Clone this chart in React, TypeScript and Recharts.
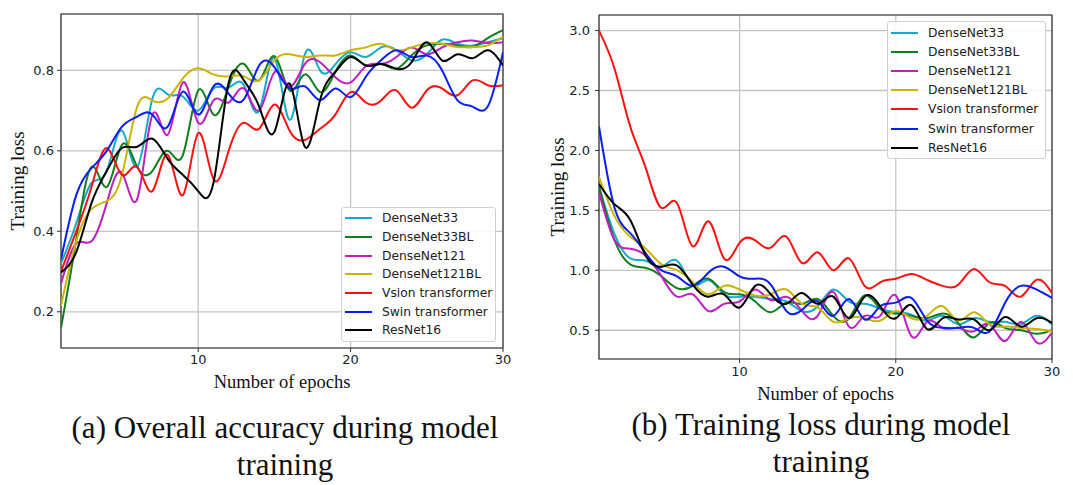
import { LineChart, Line, XAxis, YAxis, CartesianGrid, Legend, ReferenceArea } from 'recharts'

const epochs = [1, 2, 3, 4, 5, 6, 7, 8, 9, 10, 11, 12, 13, 14, 15, 16, 17, 18, 19, 20, 21, 22, 23, 24, 25, 26, 27, 28, 29, 30]

const seriesNames = ['DenseNet33', 'DenseNet33BL', 'DenseNet121', 'DenseNet121BL', 'Vsion transformer', 'Swin transformer', 'ResNet16']
const seriesColors = ['#17a9cb', '#127d1c', '#c01fc0', '#c9b400', '#ff1010', '#0a1ef0', '#000000']

// (a) overall accuracy
const accDenseNet33 = [0.32, 0.42, 0.52, 0.55, 0.65, 0.56, 0.73, 0.74, 0.735, 0.70, 0.755, 0.757, 0.763, 0.70, 0.83, 0.677, 0.84, 0.80, 0.815, 0.845, 0.833, 0.857, 0.85, 0.825, 0.84, 0.876, 0.866, 0.862, 0.87, 0.88]
const accDenseNet33BL = [0.16, 0.38, 0.56, 0.51, 0.615, 0.56, 0.55, 0.60, 0.59, 0.75, 0.69, 0.76, 0.816, 0.775, 0.835, 0.75, 0.79, 0.746, 0.796, 0.837, 0.812, 0.816, 0.804, 0.837, 0.862, 0.866, 0.862, 0.858, 0.88, 0.90]
const accDenseNet121 = [0.27, 0.37, 0.375, 0.47, 0.545, 0.48, 0.69, 0.64, 0.77, 0.67, 0.725, 0.72, 0.755, 0.70, 0.795, 0.76, 0.816, 0.82, 0.783, 0.77, 0.81, 0.816, 0.833, 0.857, 0.84, 0.857, 0.87, 0.874, 0.868, 0.87]
const accDenseNet121BL = [0.215, 0.375, 0.455, 0.475, 0.54, 0.71, 0.725, 0.73, 0.78, 0.805, 0.79, 0.785, 0.785, 0.775, 0.825, 0.84, 0.833, 0.837, 0.837, 0.85, 0.857, 0.866, 0.85, 0.857, 0.867, 0.866, 0.858, 0.858, 0.862, 0.884]
const accVit = [0.30, 0.40, 0.51, 0.607, 0.54, 0.56, 0.50, 0.59, 0.49, 0.644, 0.53, 0.60, 0.67, 0.655, 0.715, 0.65, 0.627, 0.655, 0.69, 0.746, 0.72, 0.725, 0.75, 0.707, 0.75, 0.755, 0.738, 0.775, 0.763, 0.763]
const accSwin = [0.33, 0.49, 0.557, 0.60, 0.66, 0.685, 0.69, 0.66, 0.747, 0.69, 0.76, 0.742, 0.728, 0.812, 0.808, 0.755, 0.76, 0.726, 0.755, 0.733, 0.784, 0.825, 0.85, 0.833, 0.837, 0.80, 0.726, 0.71, 0.71, 0.845]
const accResNet16 = [0.298, 0.348, 0.47, 0.55, 0.607, 0.61, 0.63, 0.58, 0.54, 0.50, 0.52, 0.77, 0.775, 0.71, 0.647, 0.767, 0.61, 0.726, 0.796, 0.833, 0.812, 0.816, 0.804, 0.82, 0.87, 0.825, 0.84, 0.83, 0.85, 0.812]

// (b) training loss
const lossDenseNet33 = [1.70, 1.30, 1.10, 1.08, 1.03, 1.08, 0.88, 0.92, 0.80, 0.78, 0.78, 0.76, 0.74, 0.66, 0.70, 0.84, 0.74, 0.72, 0.68, 0.65, 0.63, 0.58, 0.62, 0.55, 0.60, 0.57, 0.57, 0.55, 0.62, 0.55]
const lossDenseNet33BL = [1.70, 1.25, 1.05, 1.02, 0.95, 0.85, 0.87, 0.93, 0.82, 0.80, 0.74, 0.65, 0.73, 0.72, 0.76, 0.62, 0.60, 0.79, 0.68, 0.64, 0.62, 0.60, 0.64, 0.56, 0.44, 0.56, 0.52, 0.50, 0.47, 0.50]
const lossDenseNet121 = [1.65, 1.25, 1.18, 1.12, 0.95, 0.78, 0.80, 0.66, 0.72, 0.74, 0.84, 0.75, 0.78, 0.66, 0.62, 0.82, 0.53, 0.62, 0.62, 0.79, 0.45, 0.57, 0.52, 0.52, 0.49, 0.55, 0.41, 0.57, 0.40, 0.48]
const lossDenseNet121BL = [1.78, 1.45, 1.28, 1.18, 1.05, 1.00, 0.90, 0.80, 0.87, 0.84, 0.79, 0.80, 0.84, 0.72, 0.69, 0.57, 0.60, 0.60, 0.58, 0.66, 0.60, 0.62, 0.70, 0.58, 0.65, 0.55, 0.53, 0.52, 0.51, 0.49]
const lossVit = [3.00, 2.68, 2.20, 1.85, 1.52, 1.56, 1.20, 1.41, 1.10, 1.23, 1.25, 1.19, 1.28, 1.06, 1.15, 1.00, 1.10, 0.87, 0.90, 0.93, 0.97, 0.92, 0.87, 0.88, 1.01, 0.90, 0.87, 0.78, 0.92, 0.81]
const lossSwin = [2.20, 1.52, 1.31, 1.14, 1.00, 0.95, 0.87, 0.98, 1.03, 0.95, 0.93, 0.88, 0.66, 0.67, 0.74, 0.62, 0.76, 0.59, 0.70, 0.73, 0.77, 0.58, 0.52, 0.52, 0.52, 0.49, 0.73, 0.87, 0.84, 0.77]
const lossResNet16 = [1.72, 1.55, 1.42, 1.12, 1.03, 1.04, 0.88, 0.78, 0.80, 0.69, 0.87, 0.80, 0.72, 0.81, 0.72, 0.78, 0.60, 0.78, 0.70, 0.60, 0.71, 0.51, 0.60, 0.59, 0.59, 0.50, 0.61, 0.53, 0.60, 0.56]

const epochTicks = [10, 20, 30]
const accTicks = [0.2, 0.4, 0.6, 0.8]
const lossTicks = [0.5, 1.0, 1.5, 2.0, 2.5, 3.0]

const accSeries = [accDenseNet33, accDenseNet33BL, accDenseNet121, accDenseNet121BL, accVit, accSwin, accResNet16]
const lossSeries = [lossDenseNet33, lossDenseNet33BL, lossDenseNet121, lossDenseNet121BL, lossVit, lossSwin, lossResNet16]

const buildRows = (series: number[][]) =>
    epochs.map((epoch, i) => {
        const row: Record<string, number> = { epoch }
        seriesNames.forEach((name, s) => { row[name] = series[s][i] })
        return row
    })

const tickStyle = { fontFamily: 'DejaVu Sans', fontSize: 13, fill: '#222' }
const serif = "'Liberation Serif', 'Times New Roman', serif"

function LegendBox({ width, height, rowHeight }: { width: number; height: number; rowHeight: number }) {
    return (
        <div style={{
            width, height, boxSizing: 'border-box', border: '1px solid #d0d0d0', borderRadius: 3,
            background: 'rgba(255,255,255,0.85)', paddingTop: 1,
        }}>
            {seriesNames.map((name, i) => (
                <div key={name} style={{ height: rowHeight, display: 'flex', alignItems: 'center' }}>
                    <div style={{ width: 27, height: 2, background: seriesColors[i], marginLeft: 3, marginRight: 10 }} />
                    <span style={{ fontFamily: 'DejaVu Sans', fontSize: 12.3, color: '#222', whiteSpace: 'nowrap' }}>{name}</span>
                </div>
            ))}
        </div>
    )
}

interface ChartProps {
    series: number[][]
    domain: [number, number]
    ticks: number[]
    width: number
    height: number
    margin: { top: number; right: number; left: number; bottom: number }
    yAxisWidth: number
    xAxisHeight: number
    xLabelOffset: number
    yTickMargin: number
    xTickMargin: number
    legendPos: { left: number; top: number; width: number; height: number; rowHeight: number }
}

function TrainingChart(p: ChartProps) {
    const data = buildRows(p.series)
    return (
        <LineChart width={p.width} height={p.height} data={data} margin={p.margin}>
            <CartesianGrid stroke="#c4c4c4" strokeWidth={1.3} />
            <XAxis
                type="number" dataKey="epoch" domain={[1, 30]} ticks={epochTicks} allowDataOverflow
                height={p.xAxisHeight} axisLine={false} tickSize={4} tickMargin={p.xTickMargin}
                tickLine={{ stroke: '#333' }} tick={tickStyle}
                label={{ value: 'Number of epochs', position: 'insideBottom', offset: p.xLabelOffset, style: { fontFamily: serif, fontSize: 18.5, fill: '#111' } }}
            />
            <YAxis
                type="number" domain={p.domain} ticks={p.ticks} allowDataOverflow
                width={p.yAxisWidth} axisLine={false} tickSize={4} tickMargin={p.yTickMargin}
                tickLine={{ stroke: '#333' }} tick={tickStyle} tickFormatter={(v: number) => v.toFixed(1)}
                label={{
                    content: ({ viewBox }: any) => (
                        <text
                            transform={`translate(${viewBox.x + 17},${viewBox.y + viewBox.height / 2}) rotate(-90)`}
                            textAnchor="middle" dominantBaseline="central"
                            style={{ fontFamily: serif, fontSize: 19, fill: '#111' }}
                        >Training loss</text>
                    ),
                }}
            />
            <ReferenceArea x1={1} x2={30} y1={p.domain[0]} y2={p.domain[1]} fill="none" stroke="#333" strokeWidth={1.2} />
            {seriesNames.map((name, i) => (
                <Line key={name} type="natural" dataKey={name} stroke={seriesColors[i]} strokeWidth={2}
                    dot={false} activeDot={false} isAnimationActive={false} />
            ))}
            <Legend
                layout="vertical" verticalAlign="middle" align="center"
                wrapperStyle={{ left: p.legendPos.left, top: p.legendPos.top, width: p.legendPos.width }}
                content={() => <LegendBox width={p.legendPos.width} height={p.legendPos.height} rowHeight={p.legendPos.rowHeight} />}
            />
        </LineChart>
    )
}

function App() {
    return (
        <div style={{ position: 'absolute', left: 0, top: 0, width: 1073, height: 485, background: '#fff', overflow: 'hidden' }}>
            <div style={{ position: 'absolute', left: 0, top: 0 }}>
                <TrainingChart
                    series={accSeries} domain={[0.11, 0.94]} ticks={accTicks}
                    width={520} height={400} margin={{ top: 14, right: 17, left: 0, bottom: 0 }}
                    yAxisWidth={61} xAxisHeight={52} xLabelOffset={12} yTickMargin={3} xTickMargin={3}
                    legendPos={{ left: 341, top: 207, width: 155, height: 135, rowHeight: 18.7 }}
                />
            </div>
            <div style={{ position: 'absolute', left: 540, top: 0 }}>
                <TrainingChart
                    series={lossSeries} domain={[0.26, 3.13]} ticks={lossTicks}
                    width={530} height={410} margin={{ top: 15, right: 18, left: 0, bottom: 0 }}
                    yAxisWidth={59} xAxisHeight={51} xLabelOffset={10} yTickMargin={5} xTickMargin={4}
                    legendPos={{ left: 347, top: 21, width: 159, height: 138, rowHeight: 19.2 }}
                />
            </div>
            <div style={{ position: 'absolute', left: 25, top: 409, width: 520, textAlign: 'center', fontFamily: serif, fontSize: 31, lineHeight: '37px', color: '#111' }}>
                (a) Overall accuracy during model<br />training
            </div>
            <div style={{ position: 'absolute', left: 561, top: 406, width: 520, textAlign: 'center', fontFamily: serif, fontSize: 31, lineHeight: '37px', color: '#111' }}>
                (b) Training loss during model<br />training
            </div>
        </div>
    )
}

export default App
